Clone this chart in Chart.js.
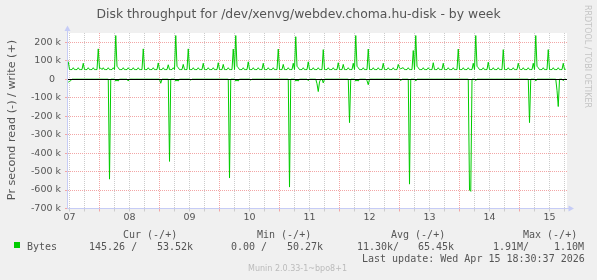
<!DOCTYPE html>
<html lang="en">
<head>
<meta charset="UTF-8">
<title>Disk throughput for /dev/xenvg/webdev.choma.hu-disk - by week</title>
<script src="https://cdn.jsdelivr.net/npm/chart.js"></script>
<style>
  html, body { margin: 0; padding: 0; background: #f0f0f0; }
  canvas { display: block; }
</style>
</head>
<body>
<canvas id="disk" width="597" height="280"></canvas>
<script>
// samples are 30 minute averages, hours counted from 00:00 on the 7th
const startHour = 11.5;
const stepHours = 0.5;

const dayLabels = ['07', '08', '09', '10', '11', '12', '13', '14', '15'];

// write (+), kB/s, one row per day (first row starts 11:30, last ends 18:30)
const writeK = [
  95, 52,52,52,62, 52,52,52,62, 52,52,52,86, 52,52,52,62, 52,52,52,62, 52,52,52,164,
  58,60,52,62, 52,52,52,62, 52,52,52,62, 52,236,70,62, 52,52,52,62, 52,52,52,62, 52,52,52,62, 52,52,52,62, 52,52,52,164, 52,52,52,62, 52,52,52,62, 52,52,52,88,
  52,52,52,62, 52,52,52,78, 52,52,52,62, 52,236,70,62, 52,52,52,80, 52,52,52,164, 52,52,52,62, 52,52,52,62, 52,52,52,86, 52,52,52,62, 52,52,52,62, 52,52,52,89,
  52,52,52,80, 52,52,52,62, 52,52,52,163, 52,236,70,62, 52,52,52,62, 52,52,52,94, 52,52,52,62, 52,52,52,62, 52,52,52,86, 52,52,52,62, 52,52,52,62, 52,52,52,163,
  52,52,52,80, 52,52,52,62, 52,52,52,86, 52,230,70,62, 52,52,52,62, 52,52,52,94, 52,52,52,62, 52,52,52,62, 52,52,52,160, 52,52,52,62, 52,52,52,62, 52,52,52,89,
  52,52,52,80, 52,52,52,62, 52,52,52,86, 52,236,70,62, 52,52,52,62, 52,52,52,163, 52,52,52,62, 52,52,52,62, 52,52,52,86, 52,52,52,62, 52,52,52,62, 52,52,52,80,
  60,56,60,62, 52,52,52,62, 52,52,52,155, 52,236,70,62, 52,52,52,62, 52,52,52,62, 52,52,52,89, 52,52,52,62, 52,52,52,86, 52,52,52,62, 52,52,52,62, 52,52,52,163,
  52,52,52,62, 52,52,52,62, 52,52,52,86, 52,236,70,62, 52,52,52,62, 52,52,52,92, 52,52,52,62, 52,52,52,62, 52,52,52,160, 52,52,52,62, 52,52,52,62, 52,52,52,86,
  58,52,52,62, 52,52,52,62, 52,52,52,86, 52,236,70,62, 52,52,52,62, 52,52,52,160, 52,52,52,62, 52,52,52,62, 52,52,52,86, 52,54
];

// read (-), kB/s, same rows
const readK = [
  -16,-12,-8, 0,0,0,0, 0,0,0,0, 0,0,0,0, 0,0,0,0, 0,0,0,0, 0,0,
  0,0,0,0, 0,0,0,0, -541,0,0,0, 0,-10,-6,-10, 0,0,0,0, 0,0,0,-10, 0,0,0,0, 0,0,0,0, 0,0,0,0, 0,0,0,0, 0,0,0,0, 0,0,0,0,
  0,-22,0,0, 0,0,0,0, -445,0,0,0, 0,-10,-6,-10, 0,0,0,0, 0,0,0,0, 0,-5,0,0, 0,0,0,0, 0,0,0,0, 0,0,0,0, 0,0,0,0, 0,0,0,0,
  0,0,0,0, 0,0,0,0, -535,0,0,0, 0,-10,-6,-10, 0,0,0,0, 0,0,0,0, 0,-5,0,0, 0,0,0,0, 0,0,0,0, 0,0,0,0, 0,0,0,0, 0,0,0,0,
  0,0,0,0, 0,0,0,0, -584,0,0,0, 0,-10,-6,-10, 0,0,0,0, 0,0,0,-8, 0,0,0,0, 0,0,-25,-67, -15,0,0,-20, 0,0,0,0, 0,0,0,0, 0,0,0,0,
  0,0,0,0, 0,0,0,0, -235,0,0,0, 0,-10,-6,-10, 0,0,0,0, 0,0,-8,-30, 0,0,0,0, 0,0,0,0, 0,0,0,0, 0,0,0,0, 0,0,0,0, 0,0,0,0,
  0,-8,0,0, 0,0,0,0, -568,0,0,0, 0,-10,0,0, 0,0,0,0, 0,0,0,0, 0,0,0,0, 0,0,0,0, 0,0,0,0, 0,0,0,0, 0,0,0,0, 0,0,0,0,
  0,0,0,0, 0,0,0,0, -600,-607,0,0, 0,-8,0,0, 0,0,0,0, 0,0,0,0, 0,0,0,0, 0,0,0,0, 0,0,0,0, 0,0,0,0, 0,0,0,0, 0,0,0,0,
  0,0,0,0, 0,0,0,0, -235,0,0,0, 0,-10,0,0, 0,0,0,0, 0,0,0,0, 0,0,0,0, 0,0,-60,-148, 0,0,0,-8, 0,0
];

const legendHeads = ['Cur (-/+)', 'Min (-/+)', 'Avg (-/+)', 'Max (-/+)'];
const legendCells = ['145.26 /', '53.52k', '0.00 /', '50.27k', '11.30k/', '65.45k', '1.91M/', '1.10M'];

const GREEN = '#00cc00';
const MGRID = '#f2a6a6';
const GRID = '#cccccc';
const AXIS = '#c6ccf6';
const FONT = '#555555';

function toPoints(values) {
  return values.map((v, i) => ({ x: startHour + i * stepHours, y: v }));
}

// grid every 6 hours, red at midnight, day label at noon
const gridHours = [];
for (let h = 12; h <= 210; h += 6) gridHours.push(h);
const yGrid = [];
for (let v = -700; v <= 250; v += 50) yGrid.push(v);

const xGridColor = c => (c.tick && c.tick.value % 24 === 0 ? MGRID : GRID);
const yGridColor = c => (c.tick && c.tick.value % 100 === 0 ? MGRID : GRID);

const muninFrame = {
  id: 'muninFrame',
  beforeDraw(chart) {
    const { ctx, chartArea: a } = chart;
    ctx.save();
    ctx.fillStyle = '#f0f0f0';
    ctx.fillRect(0, 0, chart.width, chart.height);
    ctx.fillStyle = '#ffffff';
    ctx.fillRect(a.left, a.top, a.right - a.left, a.bottom - a.top);
    ctx.restore();
  },
  afterDatasetsDraw(chart) {
    const { ctx, chartArea: a } = chart;
    const y0 = Math.round(chart.scales.y.getPixelForValue(0)) + 0.5;
    ctx.save();
    ctx.strokeStyle = '#000000';
    ctx.lineWidth = 1;
    ctx.beginPath();
    ctx.moveTo(a.left, y0);
    ctx.lineTo(a.right, y0);
    ctx.stroke();
    ctx.restore();
  },
  afterDraw(chart) {
    const { ctx, chartArea: a } = chart;
    const left = Math.round(a.left) + 0.5;
    const bottom = Math.round(a.bottom) - 0.5;
    ctx.save();

    // axis arrows
    ctx.strokeStyle = AXIS;
    ctx.fillStyle = AXIS;
    ctx.lineWidth = 1;
    ctx.beginPath();
    ctx.moveTo(left, a.bottom);
    ctx.lineTo(left, 29);
    ctx.moveTo(a.left, bottom);
    ctx.lineTo(570, bottom);
    ctx.stroke();
    ctx.beginPath();
    ctx.moveTo(left, 25.5);
    ctx.lineTo(left - 3, 31);
    ctx.lineTo(left + 3, 31);
    ctx.closePath();
    ctx.fill();
    ctx.beginPath();
    ctx.moveTo(574, bottom);
    ctx.lineTo(568.5, bottom - 3);
    ctx.lineTo(568.5, bottom + 3);
    ctx.closePath();
    ctx.fill();

    // title
    ctx.fillStyle = FONT;
    ctx.textAlign = 'center';
    ctx.textBaseline = 'alphabetic';
    ctx.font = '12.4px "DejaVu Sans"';
    ctx.fillText('Disk throughput for /dev/xenvg/webdev.choma.hu-disk - by week', 298.5, 18.3);

    // vertical axis title
    ctx.save();
    ctx.font = '11.2px "DejaVu Sans"';
    ctx.translate(14.5, 120);
    ctx.rotate(-Math.PI / 2);
    ctx.fillText('Pr second read (-) / write (+)', 0, 0);
    ctx.restore();

    // watermark
    ctx.save();
    ctx.fillStyle = '#c4c4c4';
    ctx.font = '8px "DejaVu Sans"';
    ctx.translate(585, 56.5);
    ctx.rotate(Math.PI / 2);
    ctx.fillText('RRDTOOL / TOBI OETIKER', 0, 0);
    ctx.restore();

    // legend
    ctx.textAlign = 'left';
    ctx.font = '10px "DejaVu Sans Mono"';
    const headX = [123, 257, 391, 523];
    legendHeads.forEach((t, i) => ctx.fillText(t, headX[i], 237.5));
    ctx.fillStyle = GREEN;
    ctx.fillRect(14, 242, 6, 6);
    ctx.fillStyle = FONT;
    ctx.fillText('Bytes', 27, 249.5);
    const cellX = [89, 157, 231, 287, 357, 418, 493, 554];
    legendCells.forEach((t, i) => ctx.fillText(t, cellX[i], 249.5));
    ctx.fillText('Last update: Wed Apr 15 18:30:37 2026', 362, 261.5);

    ctx.textAlign = 'center';
    ctx.fillStyle = '#bbbbbb';
    ctx.font = '8px "DejaVu Sans"';
    ctx.fillText('Munin 2.0.33-1~bpo8+1', 297.5, 271);
    ctx.restore();
  }
};

new Chart(document.getElementById('disk'), {
  type: 'line',
  data: {
    datasets: [
      { label: 'write', data: toPoints(writeK), borderColor: GREEN, borderWidth: 1, pointRadius: 0, fill: false, tension: 0 },
      { label: 'read', data: toPoints(readK), borderColor: GREEN, borderWidth: 1, pointRadius: 0, fill: false, tension: 0 }
    ]
  },
  options: {
    responsive: false,
    animation: false,
    parsing: false,
    layout: { padding: { left: 0, right: 30, top: 33, bottom: 51.5 } },
    plugins: { legend: { display: false }, tooltip: { enabled: false } },
    scales: {
      x: {
        type: 'linear',
        min: 11,
        max: 211,
        afterBuildTicks: s => { s.ticks = gridHours.map(v => ({ value: v })); },
        afterFit: s => { s.height = 20; },
        grid: { color: xGridColor, tickColor: xGridColor, drawTicks: true, tickLength: 3 },
        border: { color: AXIS, dash: [1, 1] },
        ticks: {
          autoSkip: false,
          maxRotation: 0,
          padding: 0,
          color: FONT,
          font: { family: 'DejaVu Sans', size: 9.5 },
          callback: v => ((v - 12) % 24 === 0 ? dayLabels[(v - 12) / 24] : '')
        }
      },
      y: {
        min: -700,
        max: 250,
        afterBuildTicks: s => { s.ticks = yGrid.map(v => ({ value: v })); },
        afterFit: s => { s.width = 67; },
        grid: { color: yGridColor, tickColor: yGridColor, drawTicks: true, tickLength: 2 },
        border: { color: AXIS, dash: [1, 1] },
        ticks: {
          padding: 4,
          color: FONT,
          font: { family: 'DejaVu Sans', size: 9.5 },
          callback: v => (v % 100 !== 0 ? '' : v === 0 ? '0  ' : v + ' k')
        }
      }
    }
  },
  plugins: [muninFrame]
});
</script>
</body>
</html>
